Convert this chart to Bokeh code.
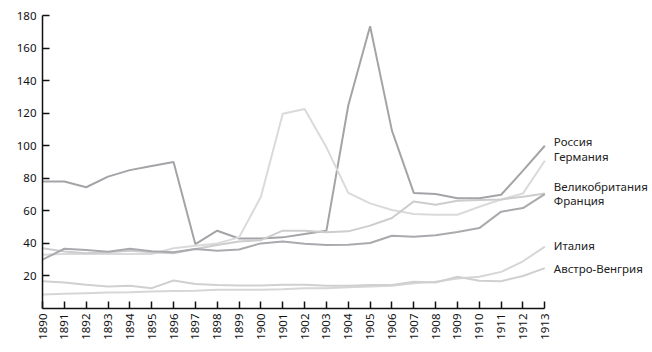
import math
from bokeh.plotting import figure
from bokeh.models import Range1d, FixedTicker, ColumnDataSource
from bokeh.core.properties import value
from bokeh.embed import file_html
from bokeh.resources import INLINE

years = list(range(1890, 1914))
russia = [78, 78, 74.5, 81, 85, 87.5, 90, 39.5, 47.8, 43, 43, 43.7, 45.7, 47.8,
          124.7, 173.4, 109.3, 71, 70.3, 67.7, 67.7, 69.9, 84.7, 100]
germany = [33, 33.5, 33.5, 33.5, 33.5, 33.5, 37, 38.5, 40, 43.7, 68.7, 119.6,
           122.6, 99, 71, 64.6, 60.5, 58, 57.6, 57.6, 62.5, 67, 70.7, 90.8]
britain = [37, 35, 34, 34.5, 35.5, 34.5, 34, 36.5, 39, 41.2, 42, 47.8, 47.8,
           46.8, 47.4, 50.9, 55.6, 65.8, 63.8, 66.2, 66.6, 67, 68.7, 70.7]
france = [30, 36.7, 35.9, 34.9, 36.7, 35.1, 34.5, 36.5, 35.5, 36.3, 40, 41.2,
          39.8, 39, 39.2, 40.2, 44.7, 44.1, 45, 47, 49.4, 59.5, 61.7, 70.3]
italy = [8.6, 9, 9.4, 9.8, 10, 10.4, 10.8, 10.9, 11.5, 11.5, 11.5, 11.9, 12.5,
         12.5, 13, 13.5, 14, 15.5, 16.5, 18.5, 19.5, 22.5, 29, 38]
austria = [16.8, 16, 14.6, 13.5, 14, 12.5, 17.2, 15, 14.4, 14.2, 14.2, 14.6,
           14.6, 14, 14, 14.5, 14.5, 16.5, 16, 19.5, 17, 16.8, 20, 24.8]

names = ["Россия", "Германия", "Великобритания", "Франция", "Италия", "Австро-Венгрия"]
series = [russia, germany, britain, france, italy, austria]
colors = ["#a4a4a8", "#dadada", "#cdcdcd", "#aaaaae", "#d6d6d6", "#d0d0d0"]
# label anchor values (de-overlapped)
label_y = [102.5, 93.3, 74.8, 66.2, 39, 24.4]
y_ticks = [20, 40, 60, 80, 100, 120, 140, 160, 180]

# extra room on the right of the data range for the series labels
x_end = years[-1] + 4.93

p = figure(width=652, height=352, output_backend="svg", toolbar_location=None,
           x_range=Range1d(years[0], x_end), y_range=Range1d(0, 180),
           min_border_left=42, min_border_right=0, min_border_top=15,
           min_border_bottom=44)
p.outline_line_color = None
p.grid.visible = False
p.background_fill_color = "white"
p.border_fill_color = "white"

for s, c in zip(series, colors):
    p.line(years, s, line_color=c, line_width=2)

src = ColumnDataSource(dict(x=[years[-1]] * len(names), y=label_y, t=names))
p.text("x", "y", text="t", source=src, x_offset=9, text_baseline="middle",
       text_align="left", text_font=value("Noto Sans"), text_font_size="11.5px",
       text_color="#222222")

for ax in (p.xaxis[0], p.yaxis[0]):
    ax.axis_line_color = "#111111"
    ax.axis_line_width = 1.5
    ax.major_tick_line_color = "#111111"
    ax.major_tick_line_width = 1.5
    ax.major_tick_in = 7
    ax.major_tick_out = 0
    ax.minor_tick_line_color = None
    ax.major_label_text_font = "Noto Sans"
    ax.major_label_text_font_size = "11.5px"
    ax.major_label_text_color = "#111111"

p.xaxis[0].bounds = (years[0], years[-1])
p.xaxis[0].ticker = FixedTicker(ticks=years)
p.xaxis[0].major_label_orientation = math.pi / 2
p.xaxis[0].major_label_standoff = 5
p.yaxis[0].ticker = FixedTicker(ticks=y_ticks)
p.yaxis[0].major_label_standoff = 6

open("out.html", "w").write(file_html(p, INLINE))
